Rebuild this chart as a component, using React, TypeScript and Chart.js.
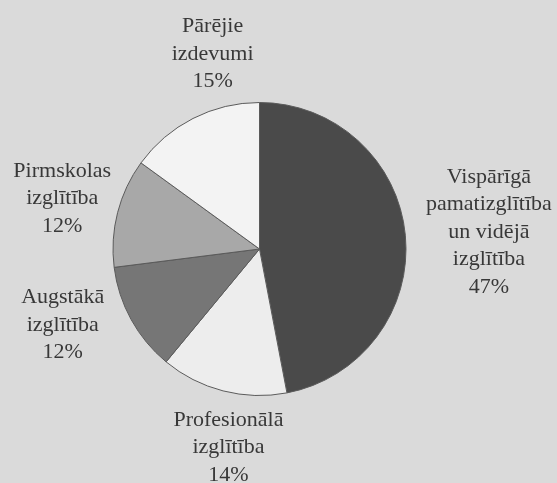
import React, { useEffect, useRef } from "react";
import { Chart, registerables } from "chart.js";

Chart.register(...registerables);

const categories: string[][] = [
  ["Vispārīgā", "pamatizglītība", "un vidējā", "izglītība"],
  ["Profesionālā", "izglītība"],
  ["Augstākā", "izglītība"],
  ["Pirmskolas", "izglītība"],
  ["Pārējie", "izdevumi"],
];
const shares: number[] = [47, 14, 12, 12, 15];
const sliceColors: string[] = ["#4a4a4a", "#ededed", "#767676", "#a8a8a8", "#f3f3f3"];
// label placement: angle offset from slice middle (deg), distance as multiple of radius
const labelAngleShift: number[] = [1.2, -5.5, 7.7, 0, 13.5];
const labelDistance: number[] = [1.57, 1.37, 1.44, 1.39, 1.37];

const labelPlugin = {
  id: "outerLabels",
  afterDatasetsDraw(chart: any) {
    const ctx = chart.ctx;
    const meta = chart.getDatasetMeta(0);
    ctx.save();
    ctx.font = '22px "Liberation Serif", "Times New Roman", serif';
    ctx.fillStyle = "#383838";
    ctx.textAlign = "center";
    ctx.textBaseline = "middle";
    const lineH = 27.5;
    meta.data.forEach((arc: any, i: number) => {
      const { x, y, startAngle, endAngle, outerRadius } = arc.getProps(
        ["x", "y", "startAngle", "endAngle", "outerRadius"],
        true
      );
      const mid = (startAngle + endAngle) / 2 + (labelAngleShift[i] * Math.PI) / 180;
      const d = outerRadius * labelDistance[i];
      const cx = x + Math.cos(mid) * d;
      const cy = y + Math.sin(mid) * d;
      const lines = [...categories[i], shares[i] + "%"];
      const top = cy - ((lines.length - 1) * lineH) / 2;
      lines.forEach((t, k) => ctx.fillText(t, cx, top + k * lineH));
    });
    ctx.restore();
  },
};

export default function App() {
  const ref = useRef<HTMLCanvasElement>(null);
  useEffect(() => {
    document.body.style.margin = "0";
    const chart = new Chart(ref.current!, {
      type: "pie",
      data: {
        labels: categories.map((c) => c.join(" ")),
        datasets: [
          {
            data: shares,
            backgroundColor: sliceColors,
            borderColor: "#5a5a5a",
            borderWidth: 1,
          },
        ],
      },
      options: {
        responsive: false,
        animation: false,
        layout: { padding: { left: 112.5, right: 150.5, top: 102, bottom: 87 } },
        plugins: { legend: { display: false }, tooltip: { enabled: false } },
      },
      plugins: [labelPlugin],
    });
    return () => chart.destroy();
  }, []);
  return (
    <div style={{ width: 557, height: 483, background: "#dadada", position: "relative" }}>
      <canvas ref={ref} width={557} height={483} />
    </div>
  );
}
